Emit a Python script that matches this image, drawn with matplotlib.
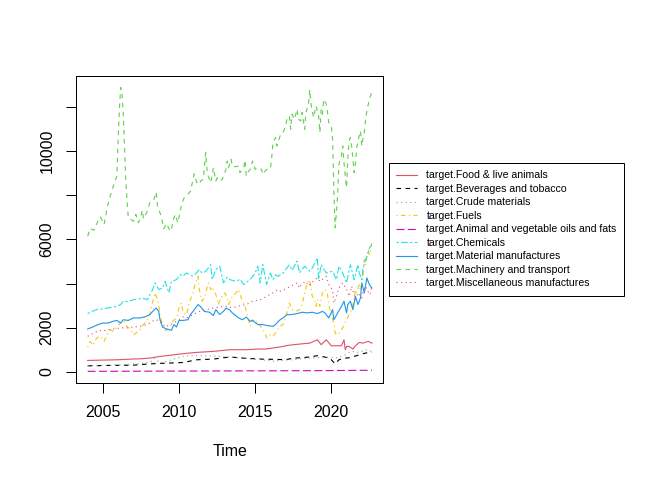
import numpy as np
import matplotlib.pyplot as plt

plt.rcParams['font.family'] = ['Liberation Sans', 'DejaVu Sans']

# months counted from Jan 2004
food_m = [0, 12, 24, 36, 42, 49, 55, 62, 75, 86, 99, 112, 125, 133, 140, 146, 151, 158, 166, 171,
          175, 181, 184, 188, 192, 200, 202, 203, 204, 206, 209, 211, 214, 217, 221, 224]
food_v = [515, 530, 545, 580, 590, 620, 680, 730, 820, 880, 925, 1000, 1000, 1030, 1030, 1080, 1120, 1200, 1250, 1280,
          1300, 1450, 1230, 1450, 1180, 1180, 1450, 1000, 1150, 1150, 1030, 1180, 1330, 1300, 1380, 1300]

bev_m = [0, 18, 36, 49, 62, 75, 86, 99, 112, 125, 137, 150, 156, 161, 175, 181, 187, 192, 195, 198,
         203, 207, 214, 219, 224]
bev_v = [270, 290, 300, 360, 390, 420, 545, 575, 670, 610, 575, 560, 545, 610, 670, 730, 670, 545, 360, 545,
         620, 640, 770, 850, 880]

crude_m = [0, 24, 49, 53, 57, 66, 75, 80, 93, 112, 137, 148, 150, 161, 175, 188, 195, 203, 208, 214, 219, 224]
crude_v = [270, 300, 420, 620, 390, 545, 700, 730, 730, 670, 545, 470, 515, 545, 620, 670, 620, 770, 925, 880, 1000, 925]

fuel_m = [0, 2, 4, 7, 10, 13, 15, 18, 20, 23, 26, 28, 31, 34, 36, 38, 41, 44, 47, 49,
          51, 53, 55, 56, 57, 59, 60, 62, 65, 67, 70, 72, 74, 75, 78, 80, 83, 85, 87, 88,
          90, 92, 95, 97, 98, 101, 103, 105, 108, 110, 111, 114, 117, 119, 121, 124, 126, 128, 130, 132,
          134, 137, 140, 141, 144, 146, 149, 151, 154, 157, 159, 161, 164, 167, 169, 171, 173, 175, 176, 177,
          179, 180, 181, 183, 185, 187, 189, 190, 192, 194, 195, 196, 198, 200, 201, 204, 206, 208, 210, 211,
          212, 214, 215, 217, 218, 219, 221, 222, 224]
fuel_v = [1120, 1380, 1200, 1530, 1610, 1380, 1680, 1910, 1830, 2030, 2210, 2330, 2060, 1910, 1680, 1760, 1880, 2140, 2360, 2640,
          3120, 3580, 3270, 3050, 2520, 2140, 1910, 1880, 2030, 2290, 2440, 2890, 3120, 2700, 2590, 3120, 3580, 4030, 4330, 3730,
          3200, 3350, 4030, 3730, 3850, 3500, 3050, 3350, 3580, 3350, 3050, 3420, 3580, 3730, 3350, 2970, 2520, 2060, 2360, 2210,
          2290, 1990, 1760, 1530, 1680, 1610, 1830, 2060, 2140, 2670, 3120, 2820, 2740, 2820, 3050, 3580, 4030, 4180, 3800, 3420,
          3200, 2970, 3270, 2970, 3580, 3730, 3500, 3050, 2520, 2210, 1760, 1680, 1730, 1910, 2000, 2360, 2590, 2820, 3350, 3730,
          3600, 3950, 3700, 4330, 5090, 4860, 5550, 5320, 5850]

oil_m = [0, 60, 120, 180, 224]
oil_v = [20, 30, 40, 50, 70]

chem_m = [0, 4, 7, 12, 16, 20, 23, 26, 28, 32, 36, 40, 43, 47, 49, 51, 53, 56, 59, 61,
          64, 66, 70, 73, 75, 78, 83, 86, 88, 90, 93, 97, 98, 101, 104, 107, 110, 112, 117, 120,
          123, 128, 132, 134, 136, 138, 141, 144, 146, 148, 150, 154, 159, 161, 165, 167, 171, 175, 177, 181,
          182, 184, 188, 193, 196, 198, 201, 204, 207, 210, 213, 214, 216, 217, 219, 221, 222, 224]
chem_v = [2640, 2750, 2820, 2850, 2900, 2940, 2970, 3050, 3200, 3180, 3270, 3300, 3350, 3270, 3500, 3700, 4030, 3730, 3800, 4100,
          3580, 4100, 4180, 4410, 4330, 4480, 4330, 4500, 4640, 4480, 4550, 4860, 4180, 4640, 4790, 4030, 4300, 4180, 4100, 4200,
          3950, 4180, 4480, 4790, 4030, 4860, 3950, 4480, 4180, 4400, 4330, 4480, 4860, 4600, 5020, 4480, 4790, 4560, 4700, 5170,
          4180, 4860, 4480, 4560, 4180, 4790, 4480, 4030, 4860, 4180, 4860, 4480, 4180, 4710, 5090, 5390, 5620, 5750]

mat_m = [0, 4, 8, 12, 16, 20, 23, 26, 28, 32, 36, 41, 45, 49, 52, 54, 56, 57, 59, 62,
         66, 68, 70, 72, 75, 79, 81, 83, 87, 89, 92, 96, 99, 101, 104, 107, 109, 112, 114, 119,
         122, 125, 128, 130, 134, 138, 142, 146, 148, 151, 155, 157, 160, 165, 169, 173, 177, 181, 185, 187,
         190, 193, 194, 197, 200, 202, 204, 205, 207, 209, 211, 213, 215, 216, 218, 220, 222, 224]
mat_v = [1940, 2030, 2140, 2210, 2210, 2290, 2330, 2210, 2360, 2330, 2440, 2440, 2490, 2590, 2790, 2890, 2740, 2360, 2030, 1940,
         1880, 2140, 2030, 2330, 2330, 2360, 2590, 2740, 3050, 2950, 2740, 2700, 2550, 2820, 2600, 2740, 2890, 2800, 2670, 2440,
         2360, 2480, 2290, 2330, 2140, 2140, 2090, 2060, 2140, 2330, 2490, 2590, 2590, 2640, 2700, 2670, 2700, 2640, 2740, 2670,
         2440, 2820, 2360, 2670, 2970, 3200, 2670, 3050, 3200, 2820, 3420, 3050, 3350, 4030, 3580, 4260, 3950, 3800]

mach_m = [0, 2, 5, 8, 10, 13, 15, 17, 20, 23, 24, 25, 26, 27, 28, 29, 30, 31, 32, 34,
          36, 38, 40, 42, 43, 44, 47, 49, 52, 54, 55, 57, 58, 60, 62, 64, 66, 67, 69, 71,
          73, 74, 76, 79, 81, 83, 84, 86, 88, 89, 91, 92, 93, 94, 95, 97, 98, 99, 101, 102,
          104, 106, 107, 109, 110, 111, 113, 114, 116, 119, 120, 123, 124, 125, 126, 128, 130, 132, 134, 137,
          138, 140, 141, 144, 145, 146, 148, 149, 150, 152, 154, 156, 157, 159, 160, 161, 163, 165, 166, 168,
          169, 171, 172, 174, 175, 176, 178, 180, 182, 183, 184, 185, 186, 188, 189, 190, 192, 193, 194, 195,
          196, 197, 198, 199, 200, 201, 202, 203, 204, 205, 206, 207, 208, 210, 211, 212, 213, 215, 216, 217,
          218, 219, 220, 222, 224]
mach_v = [6150, 6500, 6420, 6830, 7030, 6680, 7330, 7820, 8390, 8880, 10540, 11900, 12900, 12670, 11760, 10240, 8730, 7820, 6990, 6910,
          6830, 7140, 6760, 7060, 7330, 6940, 7290, 7670, 7790, 8150, 7510, 7210, 7030, 6490, 6730, 6490, 6380, 6830, 7140, 6760,
          7290, 7590, 7890, 8050, 8190, 8730, 8980, 8580, 8500, 8650, 8730, 9300, 9940, 9180, 8880, 8580, 8880, 9260, 8650, 8800,
          8650, 8730, 8880, 9180, 9560, 9260, 9640, 9330, 9300, 9330, 9030, 9260, 9600, 8880, 9030, 9180, 9560, 9180, 9260, 9180,
          8950, 9100, 9180, 9210, 9710, 10390, 10620, 10240, 10390, 10770, 10850, 11150, 11450, 11600, 11000, 11680, 11450, 11910, 11450, 11380,
          11760, 11000, 11760, 12140, 12790, 12140, 11530, 12060, 11600, 10850, 11910, 11680, 12360, 12140, 11760, 11300, 11150, 10540, 8270, 6530,
          7210, 8040, 9410, 9640, 9790, 10240, 9480, 8880, 8350, 9710, 10470, 10620, 10240, 9030, 9480, 10170, 10470, 10920, 10240, 10620,
          10850, 11450, 11830, 12360, 12700]

misc_m = [0, 5, 9, 12, 16, 20, 26, 31, 36, 41, 47, 51, 53, 56, 59, 61, 65, 68, 72, 75,
          78, 83, 88, 94, 99, 104, 109, 114, 120, 125, 130, 136, 141, 146, 150, 152, 156, 160, 165, 167,
          168, 172, 174, 179, 181, 183, 188, 190, 193, 194, 196, 198, 201, 204, 206, 208, 211, 213, 216, 217,
          219, 222, 223, 224]
misc_v = [1610, 1760, 1880, 1850, 1910, 1930, 1990, 1990, 2030, 2060, 2140, 2290, 2360, 2330, 2210, 2030, 2140, 2210, 2360, 2490,
          2440, 2590, 2740, 2820, 2890, 2940, 2970, 2900, 3000, 3050, 3200, 3270, 3420, 3580, 3730, 3650, 3750, 3880, 4030, 3800,
          3950, 4100, 3900, 4180, 4260, 4100, 4330, 3950, 3730, 3120, 3420, 3800, 4030, 3730, 3420, 3880, 3270, 3580, 3350, 3600,
          3880, 3500, 3580, 3950]

series = [
    ("target.Food & live animals", food_m, food_v, "#DF536B", "-"),
    ("target.Beverages and tobacco", bev_m, bev_v, "#000000", (0, (4, 4))),
    ("target.Crude materials", crude_m, crude_v, "#9E9E9E", (0, (1, 3))),
    ("target.Fuels", fuel_m, fuel_v, "#F5C710", (0, (1, 3, 4, 3))),
    ("target.Animal and vegetable oils and fats", oil_m, oil_v, "#CD0BBC", (0, (7, 3))),
    ("target.Chemicals", chem_m, chem_v, "#28E2E5", (0, (2, 2, 6, 2))),
    ("target.Material manufactures", mat_m, mat_v, "#2297E6", "-"),
    ("target.Machinery and transport", mach_m, mach_v, "#61D04F", (0, (4, 4))),
    ("target.Miscellaneous manufactures", misc_m, misc_v, "#DF536B", (0, (1, 3))),
]

fig = plt.figure(figsize=(7, 5), dpi=96)
ax = fig.add_axes([76.3 / 672, 1 - 382.7 / 480, 307 / 672, 306.7 / 480])

handles = []
for name, m, v, col, ls in series:
    t = 2004 + np.array(m) / 12.0
    h, = ax.plot(t, v, color=col, linestyle=ls, linewidth=0.85, label=name)
    handles.append(h)

ax.margins(x=0.04, y=0.04)

yt = [0, 2000, 4000, 6000, 8000, 10000, 12000]
ax.set_yticks(yt)
ax.set_yticklabels(["0", "2000", "", "6000", "", "10000", ""], rotation=90, va="center", fontsize=12)
ax.set_xticks([2005, 2010, 2015, 2020])
ax.set_xticklabels(["2005", "2010", "2015", "2020"], fontsize=12)
ax.tick_params(length=7.5, width=0.75, pad=9, color="black")
ax.set_xlabel("Time", fontsize=12, labelpad=18)
for s in ax.spines.values():
    s.set_linewidth(0.75)

leg = fig.legend(handles=handles, loc="upper left", bbox_to_anchor=(388.5 / 672, 1 - 163 / 480),
                 fontsize=7.9, frameon=True, fancybox=False, framealpha=1, edgecolor="black",
                 handlelength=2.0, handletextpad=0.9, labelspacing=0.33, borderpad=0.7,
                 borderaxespad=0)
leg.get_frame().set_linewidth(0.75)

fig.savefig("out.png", dpi=96)
